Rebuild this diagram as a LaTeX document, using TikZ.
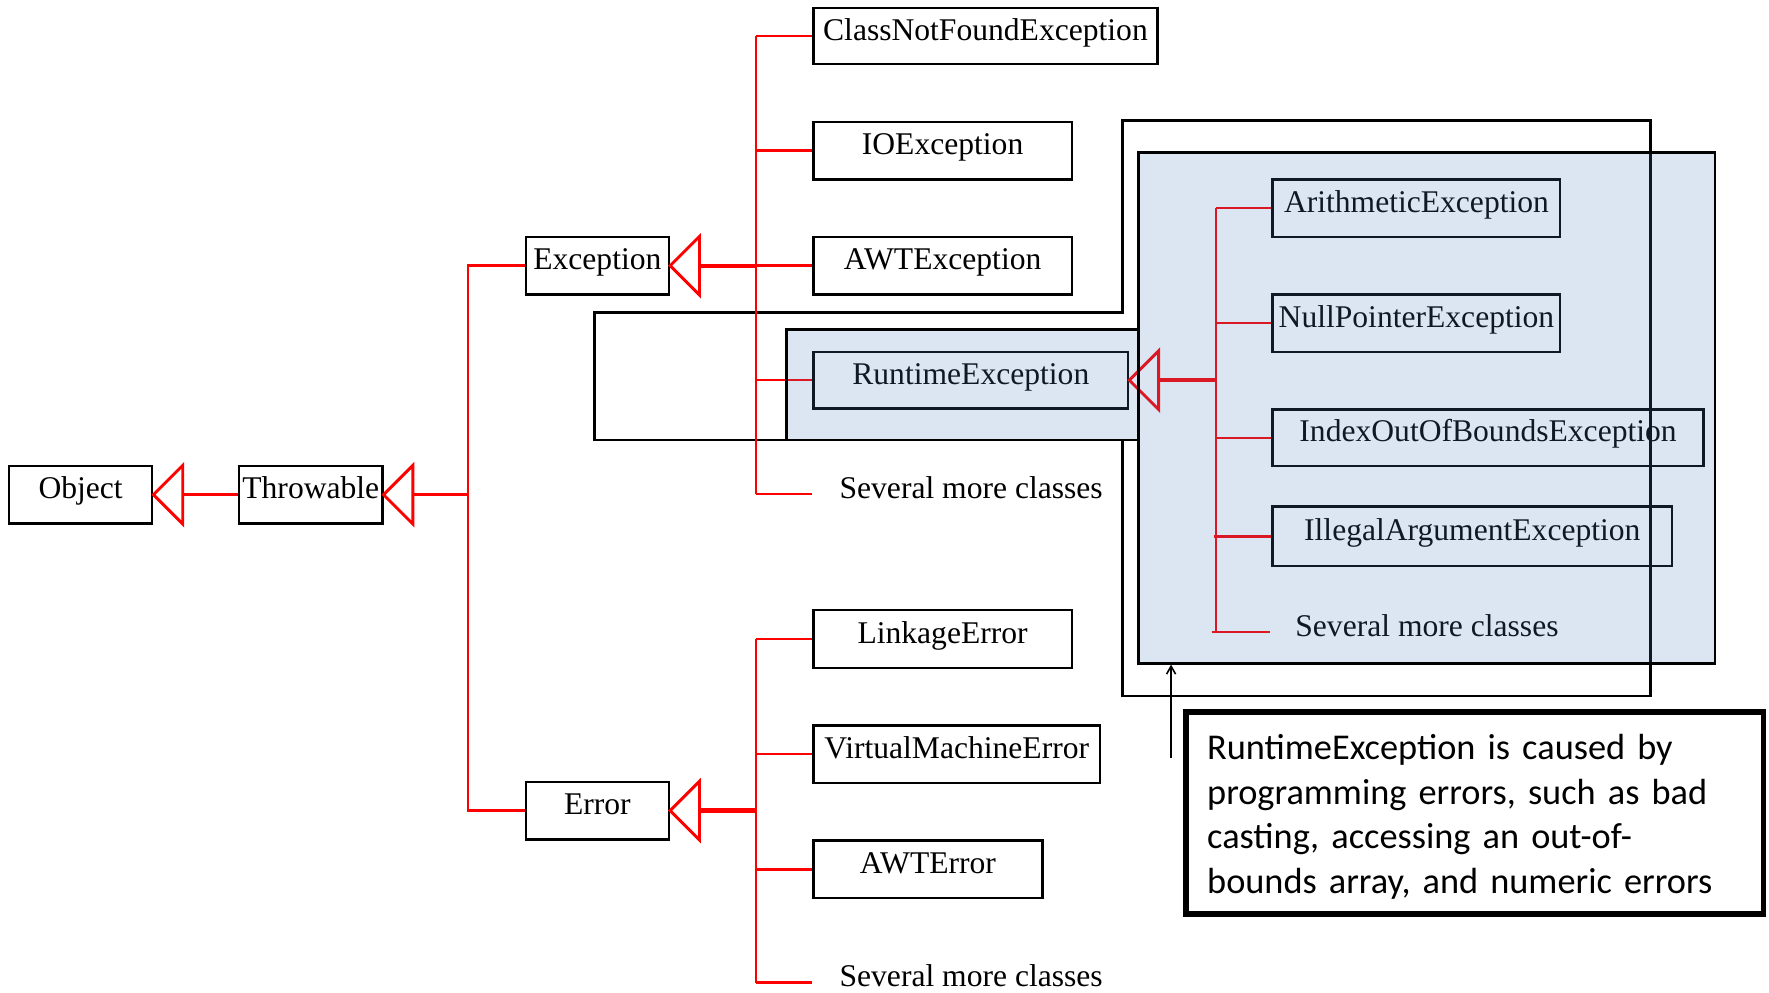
\documentclass[tikz,border=0pt]{standalone}
\usepackage{fontspec}
\setmainfont{Liberation Serif}
\newfontfamily\calloutfont{Carlito}
\usetikzlibrary{calc,arrows.meta}
\definecolor{tred}{RGB}{255,0,0}
\definecolor{hlblue}{RGB}{79,129,189}
\begin{document}
\begin{tikzpicture}[x=1pt,y=-1pt,
  cls/.style={draw,line width=2pt,inner sep=0pt,minimum height=51pt,
    text height=1.05em,text depth=0.3em,font=\fontsize{28}{32}\selectfont},
  plaintxt/.style={inner sep=0pt,anchor=west,text height=1.05em,text depth=0.3em,
    font=\fontsize{28}{32}\selectfont},
  rl/.style={draw=tred,line width=2.2pt},
  rthick/.style={draw=tred,line width=3.8pt},
  tri/.style={draw=tred,line width=2.6pt,line join=miter},
  hl/.style={draw=black,line width=2.2pt,fill=hlblue,fill opacity=0.2,inner sep=0pt},
  outline/.style={draw=black,line width=2.2pt}
]
\useasboundingbox (0,0) rectangle (1568,880);

% outer callout outline
\draw[outline] (527,277) -- (995,277) -- (995,107) -- (1463,107) -- (1463,617)
  -- (995,617) -- (995,390) -- (527,390) -- cycle;

% class nodes
\node[cls,minimum width=127pt] (obj) at (71.5,438.5) {Object};
\node[cls,minimum width=127pt] (thr) at (275.5,438.5) {Throwable};
\node[cls,minimum width=127pt] (exc) at (529.5,235.5) {Exception};
\node[cls,minimum width=127pt] (err) at (529.5,718.5) {Error};

\node[cls,minimum width=305pt,minimum height=50pt] (cnf) at (873.5,32) {ClassNotFoundException};
\node[cls,minimum width=229pt] (ioe) at (835.5,133.5) {IOException};
\node[cls,minimum width=229pt] (awte) at (835.5,235.5) {AWTException};
\node[cls,minimum width=279pt,minimum height=50pt] (rte) at (860.5,337) {RuntimeException};
\node[plaintxt] (smc1) at (744,438) {Several more classes};

\node[cls,minimum width=229pt] (link) at (835.5,566.5) {LinkageError};
\node[cls,minimum width=254pt] (vme) at (848,668.5) {VirtualMachineError};
\node[cls,minimum width=203pt] (awterr) at (822.5,770.5) {AWTError};
\node[plaintxt] (smc2) at (744,871) {Several more classes};

\node[cls,minimum width=255pt] (arith) at (1255.5,184.5) {ArithmeticException};
\node[cls,minimum width=255pt] (npe) at (1255.5,286.5) {NullPointerException};
\node[cls,minimum width=382pt,minimum height=50pt] (ioob) at (1319,388) {IndexOutOfBoundsException};
\node[cls,minimum width=354pt,minimum height=53pt] (iae) at (1305,475.5) {IllegalArgumentException};
\node[plaintxt] (smc3) at (1148,560) {Several more classes};

% bus coordinates
\coordinate (b1) at (415,438.5);
\coordinate (b2) at (670,235.5);
\coordinate (b3) at (670,718.5);
\coordinate (b4) at (1078,337);

% Throwable -> Object
\draw[tri] (obj.east) -- ++(26,-26) -- ++(0,52) -- cycle;
\draw[rl] (thr.west) -- ($(obj.east)+(26,0)$);

% Exception, Error -> Throwable
\draw[tri] (thr.east) -- ++(26,-26) -- ++(0,52) -- cycle;
\draw[rl] ($(thr.east)+(26,0)$) -- (b1);
\draw[rl] (exc.west) -- (exc.west -| b1) -- (err.west -| b1) -- (err.west);

% Exception children
\draw[tri] (exc.east) -- ++(26,-26) -- ++(0,52) -- cycle;
\draw[rthick] ($(exc.east)+(26,0)$) -- (b2);
\draw[rl] (cnf.west -| b2) -- (smc1.west -| b2);
\draw[rl] (cnf.west -| b2) -- (cnf.west);
\draw[rl] (ioe.west -| b2) -- (ioe.west);
\draw[rl] (b2) -- (awte.west);
\draw[rl] (rte.west -| b2) -- (rte.west);
\draw[rl] (smc1.west -| b2) -- ($(smc1.west)+(-24,0)$);

% Error children
\draw[tri] (err.east) -- ++(26,-26) -- ++(0,52) -- cycle;
\draw[rthick] ($(err.east)+(26,0)$) -- (b3);
\draw[rl] (link.west -| b3) -- (smc2.west -| b3);
\draw[rl] (link.west -| b3) -- (link.west);
\draw[rl] (vme.west -| b3) -- (vme.west);
\draw[rl] (awterr.west -| b3) -- (awterr.west);
\draw[rl] (smc2.west -| b3) -- ($(smc2.west)+(-24,0)$);

% RuntimeException children
\draw[tri] (rte.east) -- ++(26,-26) -- ++(0,52) -- cycle;
\draw[rthick] ($(rte.east)+(26,0)$) -- (b4);
\draw[rl] (arith.west -| b4) -- (smc3.west -| b4);
\draw[rl] (arith.west -| b4) -- (arith.west);
\draw[rl] (npe.west -| b4) -- (npe.west);
\draw[rl] (ioob.west -| b4) -- (ioob.west);
\draw[rl] ($(iae.west -| b4)+(-2,0)$) -- (iae.west);
\draw[rl] ($(smc3.west -| b4)+(-4,0)$) -- ($(smc3.west)+(-22,0)$);

% highlighted (blue) regions
\node[hl,minimum width=312pt,minimum height=98pt] (rtbox) at (853,341) {};
\node[hl,minimum width=511pt,minimum height=453pt] (rtarea) at (1264.5,361.5) {};

% explanation note
\node[draw,line width=5pt,minimum width=512pt,minimum height=179pt,inner sep=0pt]
  (note) at (1307,720.5) {};
\node[text width=474pt,inner sep=0pt,align=left,
  font=\calloutfont\fontsize{32.2}{39.5}\selectfont]
  (notetext) at ($(note.center)+(0,3.5)$)
  {RuntimeException is caused by\\programming errors, such as bad\\casting, accessing an out-of-\\bounds array, and numeric errors};
\coordinate (arrtail) at (1038,672);
\draw[line width=1.4pt,-{Straight Barb[length=7pt,width=8pt]}] (arrtail) -- (arrtail |- rtarea.south);
\end{tikzpicture}
\end{document}
